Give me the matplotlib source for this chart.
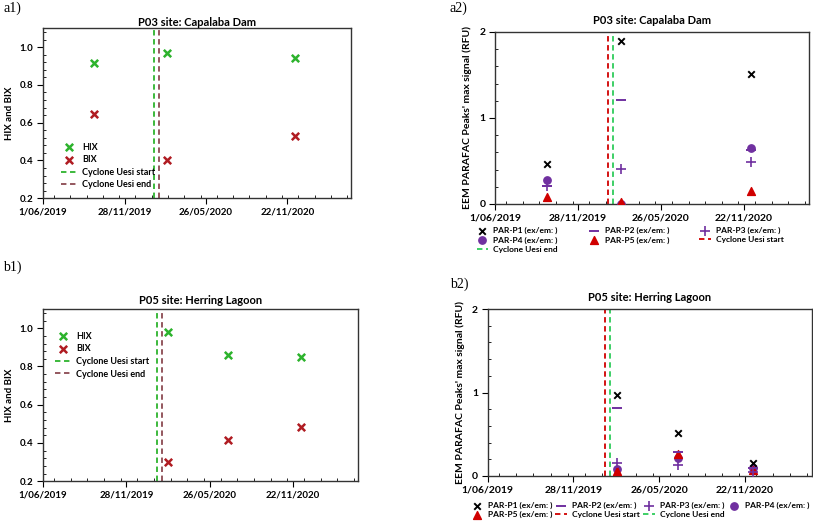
import datetime as dt
import matplotlib
matplotlib.use("Agg")
import matplotlib.pyplot as plt
import matplotlib.dates as mdates
from matplotlib.ticker import MultipleLocator, FixedLocator, FuncFormatter

# -----------------------
# DATA
# -----------------------
start_date = "2019-06-01"
end_date = "2021-04-12"
cyclone_start = "2020-02-02"
cyclone_end = "2020-02-12"
tick_dates = ["2019-06-01", "2019-11-28", "2020-05-26", "2020-11-22"]

# P03 Capalaba Dam
p03_dates = ["2019-09-21", "2020-02-29", "2020-12-08"]
p03_hix = [0.915, 0.97, 0.945]
p03_bix = [0.648, 0.405, 0.53]
p03_par1 = [0.47, 1.90, 1.51]
p03_par2 = [0.21, 1.21, 0.63]
p03_par3 = [0.21, 0.41, 0.49]
p03_par4 = [0.28, 0.00, 0.65]
p03_par5 = [0.08, 0.02, 0.15]

# P05 Herring Lagoon
p05_dates = ["2020-02-27", "2020-07-05", "2020-12-09"]
p05_hix = [0.98, 0.86, 0.848]
p05_bix = [0.30, 0.415, 0.483]
p05_par1 = [0.97, 0.51, 0.15]
p05_par2 = [0.81, 0.29, 0.10]
p05_par3 = [0.15, 0.13, 0.05]
p05_par4 = [0.08, 0.21, 0.09]
p05_par5 = [0.06, 0.26, 0.07]

par_labels = ["PAR-P1 (ex/em: )", "PAR-P2 (ex/em: )", "PAR-P3 (ex/em: )",
              "PAR-P4 (ex/em: )", "PAR-P5 (ex/em: )"]


def d(s):
    return mdates.date2num(dt.datetime.strptime(s, "%Y-%m-%d"))


def fmt_date(x, pos=None):
    t = mdates.num2date(x)
    return f"{t.day}/{t.month:02d}/{t.year}"


plt.rcParams['font.family'] = ['Lato', 'DejaVu Sans']
fig = plt.figure(figsize=(8.13, 5.23), dpi=100)

GREEN = "#2db32d"
DARKRED = "#b01c22"
BROWN = "#8b4a52"
PURPLE = "#7030a0"
RED = "#d00000"
LGREEN = "#2ecc5a"


def style_axis(ax, ylim, ymajor, yminor, fs=7):
    ax.set_xlim(d(start_date), d(end_date))
    ax.set_ylim(*ylim)
    ax.xaxis.set_major_locator(FixedLocator([d(t) for t in tick_dates]))
    ax.xaxis.set_major_formatter(FuncFormatter(fmt_date))
    ax.xaxis.set_minor_locator(MultipleLocator(36))
    ax.yaxis.set_major_locator(MultipleLocator(ymajor))
    ax.yaxis.set_minor_locator(MultipleLocator(yminor))
    ax.tick_params(axis='both', which='major', direction='out', length=4,
                   width=0.8, labelsize=fs, pad=3)
    ax.tick_params(axis='both', which='minor', direction='in', length=2.5,
                   width=0.6)
    for lab in ax.get_xticklabels() + ax.get_yticklabels():
        lab.set_fontweight('bold')
    for sp in ax.spines.values():
        sp.set_color('#333333')
        sp.set_linewidth(1.0)


def index_panel(rect, dates, hix, bix, title, leg_loc, start_col, end_col,
                bbox, tpad):
    ax = fig.add_axes(rect)
    x = [d(s) for s in dates]
    ax.scatter(x, hix, marker='x', color=GREEN, s=28, linewidths=1.8,
               label='HIX', zorder=3)
    ax.scatter(x, bix, marker='x', color=DARKRED, s=28, linewidths=1.8,
               label='BIX', zorder=3)
    ax.axvline(d(cyclone_start), color=start_col, ls=(0, (3, 2)), lw=1.3,
               label='Cyclone Uesi start')
    ax.axvline(d(cyclone_end), color=end_col, ls=(0, (3, 2)), lw=1.3,
               label='Cyclone Uesi end')
    style_axis(ax, (0.2, 1.1), 0.2, 0.04)
    ax.yaxis.set_major_formatter(FuncFormatter(lambda v, p: f"{v:.1f}"))
    ax.set_ylabel("HIX and BIX", fontsize=7, fontweight='bold', labelpad=4)
    ax.set_title(title, fontsize=8, fontweight='bold', pad=tpad)
    ax.legend(loc=leg_loc, bbox_to_anchor=bbox, frameon=False,
              handlelength=1.8, handletextpad=0.6, labelspacing=0.4,
              borderaxespad=0.2, prop={'size': 6.5, 'weight': 'bold'})
    return ax


def par_panel(rect, dates, p1, p2, p3, p4, p5, title, ncol, order, bbox,
              colsp):
    ax = fig.add_axes(rect)
    x = [d(s) for s in dates]
    h = []
    h.append(ax.scatter(x, p1, marker='x', color='black', s=22,
                        linewidths=1.4, label=par_labels[0], zorder=4))
    h.append(ax.scatter(x, p2, marker='_', color=PURPLE, s=45,
                        linewidths=1.4, label=par_labels[1], zorder=4))
    h.append(ax.scatter(x, p3, marker='+', color=PURPLE, s=45,
                        linewidths=1.2, label=par_labels[2], zorder=4))
    h.append(ax.scatter(x, p4, marker='o', color=PURPLE, s=28,
                        label=par_labels[3], zorder=3))
    h.append(ax.scatter(x, p5, marker='^', color=RED, s=32,
                        label=par_labels[4], zorder=3))
    h.append(ax.axvline(d(cyclone_start), color=RED, ls=(0, (3, 2)), lw=1.3,
                        label='Cyclone Uesi start'))
    h.append(ax.axvline(d(cyclone_end), color=LGREEN, ls=(0, (3, 2)), lw=1.3,
                        label='Cyclone Uesi end'))
    style_axis(ax, (0, 2), 1, 0.2, fs=7.5)
    ax.set_ylabel("EEM PARAFAC Peaks' max signal (RFU)", fontsize=7.5,
                  fontweight='bold', labelpad=5)
    ax.set_title(title, fontsize=8, fontweight='bold', pad=6)
    hh = [h[i] for i in order]
    ax.legend(hh, [x.get_label() for x in hh], loc='upper center',
              bbox_to_anchor=bbox, ncol=ncol,
              frameon=False, handlelength=1.4, handletextpad=0.6,
              columnspacing=colsp, labelspacing=0.25,
              prop={'size': 6, 'weight': 'bold'})
    return ax


index_panel([0.053, 0.621, 0.379, 0.325], p03_dates, p03_hix, p03_bix,
            "P03 site: Capalaba Dam", 'lower left', GREEN, BROWN, (0.04, 0.02),
            1)
par_panel([0.609, 0.610, 0.386, 0.329], p03_dates, p03_par1, p03_par2,
          p03_par3, p03_par4, p03_par5, "P03 site: Capalaba Dam", 3,
          [0, 3, 6, 1, 4, 2, 5], (0.43, -0.09), 3.6)
index_panel([0.053, 0.080, 0.3875, 0.329], p05_dates, p05_hix, p05_bix,
            "P05 site: Herring Lagoon", 'upper left', GREEN, BROWN,
            (0.02, 0.90), 4)
par_panel([0.600, 0.090, 0.3985, 0.319], p05_dates, p05_par1, p05_par2,
          p05_par3, p05_par4, p05_par5, "P05 site: Herring Lagoon", 4,
          [0, 4, 1, 5, 2, 6, 3], (0.47, -0.11), 0.4)

serif = ['Liberation Serif', 'DejaVu Serif']
fig.text(0.004, 0.985, "a1)", fontsize=10, family=serif, va='center')
fig.text(0.553, 0.985, "a2)", fontsize=10, family=serif, va='center')
fig.text(0.004, 0.489, "b1)", fontsize=10, family=serif, va='center')
fig.text(0.553, 0.457, "b2)", fontsize=10, family=serif, va='center')

fig.savefig("out.png", dpi=100)
